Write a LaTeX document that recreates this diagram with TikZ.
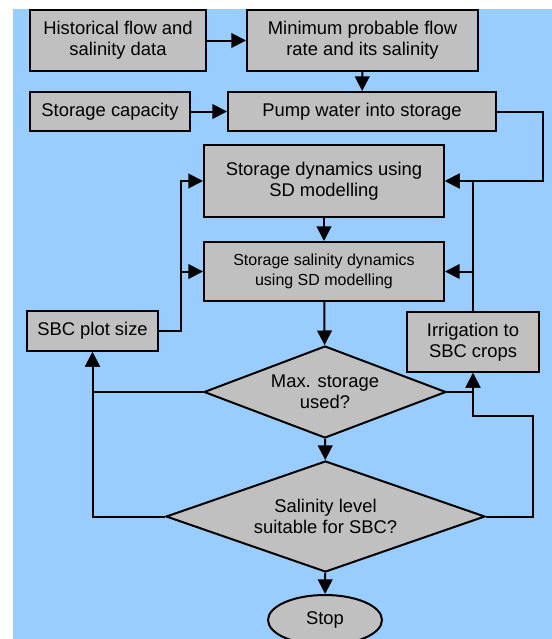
\documentclass[tikz,border=0pt]{standalone}
\usepackage{fontspec}
\setmainfont{Liberation Sans}
\usepackage{tikz}
\usetikzlibrary{arrows.meta,positioning,shapes.geometric}
\definecolor{skyblue}{HTML}{99CCFF}
\definecolor{boxgray}{HTML}{C0C0C0}
\tikzset{
  procbox/.style={draw,line width=1.5pt,fill=boxgray,align=center,inner sep=0pt,
    font=\fontsize{13.8}{16}\selectfont},
  decision/.style={diamond,draw,line width=1.5pt,fill=boxgray,align=center,inner sep=0pt,
    font=\fontsize{13.8}{16}\selectfont},
  terminal/.style={ellipse,draw,line width=1.5pt,fill=boxgray,inner sep=0pt,
    font=\fontsize{13.8}{16}\selectfont},
  flow/.style={line width=1.5pt,-{Triangle[length=11pt,width=11pt]}},
  link/.style={line width=1.5pt}
}

\begin{document}
\begin{tikzpicture}[x=0.75pt,y=-0.75pt]
  % frame
  \useasboundingbox (0,0) rectangle (552,639);
  \clip (0,0) rectangle (552,639);
  \fill[skyblue] (13,9) rectangle (552,639);
  % boxes
  \node[procbox,minimum width=132pt,minimum height=45.75pt] (hist) at (118,40.5) {Historical flow and\\salinity data};
  \node[procbox,minimum width=173.25pt,minimum height=45.75pt] (minflow) at (362.5,40.5) {Minimum probable flow\\rate and its salinity};
  \node[procbox,minimum width=120pt,minimum height=29.25pt] (cap) at (110,111.5) {Storage capacity};
  \node[procbox,minimum width=201pt,minimum height=29.25pt] (pump) at (362,111.5) {Pump water into storage};
  \node[procbox,minimum width=180pt,minimum height=54pt] (sdyn) at (324,181) {Storage dynamics using\\SD modelling};
  \node[procbox,minimum width=180pt,minimum height=44.25pt,font=\fontsize{12}{15}\selectfont] (ssal) at (324,271.5) {Storage salinity dynamics\\using SD modelling};
  \node[procbox,minimum width=98.25pt,minimum height=30pt] (plot) at (92.5,331) {SBC plot size};
  \node[procbox,minimum width=99pt,minimum height=45pt] (irrig) at (473,342) {Irrigation to\\SBC crops};
  % decisions
  \node[decision,aspect=2.63,minimum width=181.5pt,minimum height=69pt] (maxq) at (325,392) {Max. storage\\used?};
  \node[decision,aspect=2.87,minimum width=239.25pt,minimum height=83.25pt] (salq) at (325.5,516.5) {Salinity level\\suitable for SBC?};
  \node[terminal,minimum width=85.5pt,minimum height=37.5pt] (stop) at (325,620) {Stop};
  % turning points
  \coordinate (pumpturn) at (543,111.5);
  \coordinate (plotturn) at (181,331);
  \coordinate (salturn) at (533,416);
  % main flow
  \draw[flow] (hist) -- (minflow);
  \draw[flow] (minflow) -- (pump);
  \draw[flow] (cap) -- (pump);
  \draw[flow] (pump.east) -- (pumpturn) |- (sdyn.east);
  \draw[flow] (sdyn) -- (ssal);
  \draw[flow] (ssal) -- (maxq);
  \draw[flow] (maxq) -- (salq);
  \draw[flow] (salq) -- (stop);
  % feedback loops
  \draw[flow] (irrig.north) |- (sdyn.east);
  \draw[flow] (irrig.north) |- (ssal.east);
  \draw[flow] (plot.east) -- (plotturn) |- (sdyn.west);
  \draw[flow] (plotturn) |- (ssal.west);
  \draw[flow] (maxq.west) -| (plot.south);
  \draw[flow] (salq.west) -| (plot.south);
  \draw[flow] (maxq.east) -| (irrig.south);
  \draw[flow] (salq.east) -| (salturn) -| (irrig.south);
\end{tikzpicture}
\end{document}
